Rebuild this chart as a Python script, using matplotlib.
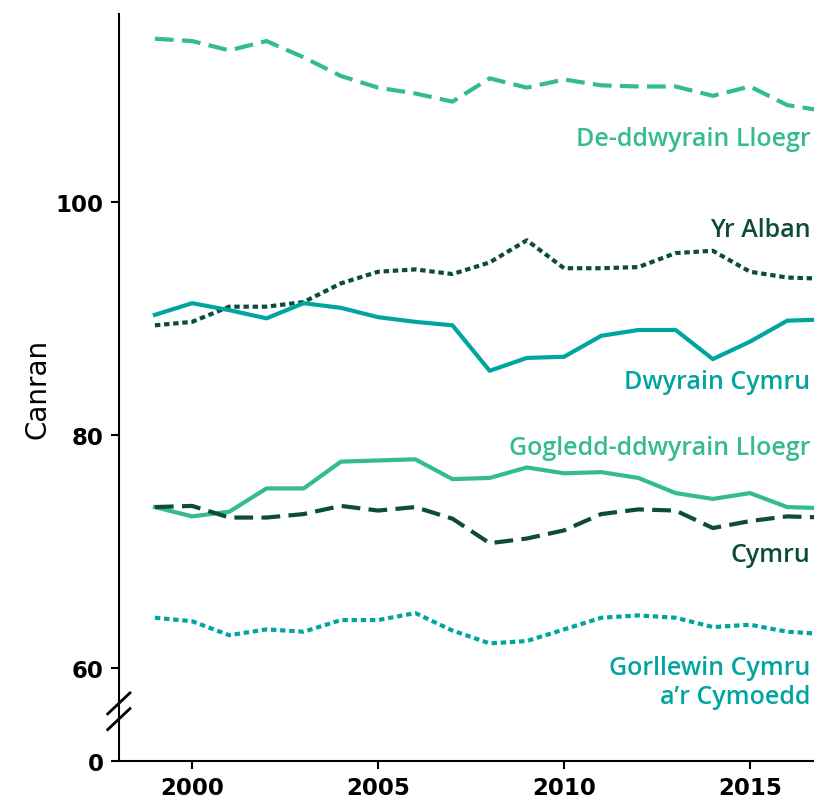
import numpy as np
import matplotlib.pyplot as plt

years = list(range(1999, 2018))

de_ddwyrain_lloegr = [114.0, 113.8, 113.0, 113.8, 112.4, 110.8, 109.8, 109.3, 108.6, 110.6,
                      109.8, 110.5, 110.0, 109.9, 109.9, 109.1, 109.9, 108.3, 107.8]
yr_alban = [89.4, 89.7, 91.0, 91.0, 91.4, 93.0, 94.0, 94.2, 93.8, 94.8,
            96.7, 94.3, 94.3, 94.4, 95.6, 95.8, 94.0, 93.5, 93.4]
dwyrain_cymru = [90.3, 91.3, 90.7, 90.0, 91.3, 90.9, 90.1, 89.7, 89.4, 85.5,
                 86.6, 86.7, 88.5, 89.0, 89.0, 86.5, 88.0, 89.8, 89.9]
gogledd_ddwyrain_lloegr = [73.8, 73.0, 73.4, 75.4, 75.4, 77.7, 77.8, 77.9, 76.2, 76.3,
                           77.2, 76.7, 76.8, 76.3, 75.0, 74.5, 75.0, 73.8, 73.7]
cymru = [73.8, 73.9, 72.9, 72.9, 73.2, 73.9, 73.5, 73.8, 72.8, 70.7,
         71.1, 71.8, 73.2, 73.6, 73.5, 72.0, 72.6, 73.0, 72.9]
gorllewin_cymru = [64.3, 64.0, 62.8, 63.3, 63.1, 64.1, 64.1, 64.7, 63.2, 62.1,
                   62.3, 63.3, 64.3, 64.5, 64.3, 63.5, 63.7, 63.1, 62.9]

xticks = [2000, 2005, 2010, 2015]
ytick_vals = [0, 60, 80, 100]

light = '#34BC8B'
teal = '#00A5A0'
dark = '#0D4C3C'

# the axis is broken below 60: the value 0 is drawn at this position
zero_pos = 52.0

fig = plt.figure(figsize=(8.14, 8.03), dpi=100)
ax = fig.add_axes([0.146, 0.051, 0.854, 0.930])

ax.plot(years, de_ddwyrain_lloegr, color=light, lw=3, dashes=(4.5, 2), solid_capstyle='butt')
ax.plot(years, yr_alban, color=dark, lw=3, dashes=(1.3, 0.9))
ax.plot(years, dwyrain_cymru, color=teal, lw=3)
ax.plot(years, gogledd_ddwyrain_lloegr, color=light, lw=3)
ax.plot(years, cymru, color=dark, lw=3, dashes=(4.5, 2))
ax.plot(years, gorllewin_cymru, color=teal, lw=3, dashes=(1.3, 0.9))

ax.set_xlim(1998.03, 2016.72)
ax.set_ylim(zero_pos, 116.1)

ax.set_xticks(xticks)
ax.set_xticklabels([str(x) for x in xticks])
ax.set_yticks([zero_pos if v == 0 else v for v in ytick_vals])
ax.set_yticklabels([str(v) for v in ytick_vals])

for s in ['top', 'right']:
    ax.spines[s].set_visible(False)
for s in ['left', 'bottom']:
    ax.spines[s].set_linewidth(1.5)
ax.tick_params(axis='both', length=6, width=1.5, labelsize=16.5, pad=5)
for lab in ax.get_xticklabels() + ax.get_yticklabels():
    lab.set_fontweight('semibold')

ax.set_ylabel('Canran', fontsize=20, labelpad=3)

# break marks on the y axis
for yb in [56.95, 55.6]:
    ax.plot([-0.016, 0.016], [yb - 0.9, yb + 0.9], color='black', lw=2,
            transform=ax.get_yaxis_transform(), clip_on=False)

labels = [
    ('De-ddwyrain Lloegr', 105.4, light),
    ('Yr Alban', 97.6, dark),
    ('Dwyrain Cymru', 84.6, teal),
    ('Gogledd-ddwyrain Lloegr', 78.9, light),
    ('Cymru', 69.7, dark),
    ('Gorllewin Cymru\na\u2019r Cymoedd', 58.8, teal),
]
for text, yv, col in labels:
    ax.text(0.995, yv, text, color=col, fontsize=18, ha='right', va='center',
            transform=ax.get_yaxis_transform(), family='Open Sans', fontweight='semibold',
            linespacing=1.2)

fig.savefig('out.png', dpi=100)
